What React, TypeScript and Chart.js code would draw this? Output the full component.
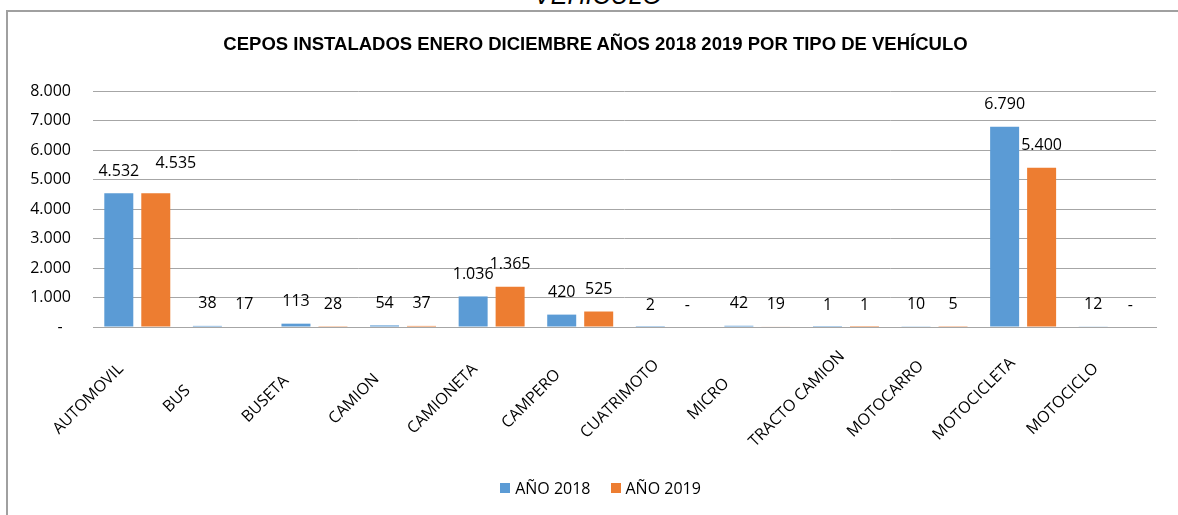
import React, { useEffect, useRef } from "react";
import { Chart, registerables } from "chart.js";

Chart.register(...registerables);

const categories = [
  "AUTOMOVIL",
  "BUS",
  "BUSETA",
  "CAMION",
  "CAMIONETA",
  "CAMPERO",
  "CUATRIMOTO",
  "MICRO",
  "TRACTO CAMION",
  "MOTOCARRO",
  "MOTOCICLETA",
  "MOTOCICLO",
];
const year2018 = [4532, 38, 113, 54, 1036, 420, 2, 42, 1, 10, 6790, 12];
const year2019 = [4535, 17, 28, 37, 1365, 525, 0, 19, 1, 5, 5400, 0];
const seriesNames = ["AÑO 2018", "AÑO 2019"];
const seriesColors = ["#5B9BD5", "#ED7D31"];
const yTicks = [0, 1000, 2000, 3000, 4000, 5000, 6000, 7000, 8000];
const chartTitle = "CEPOS INSTALADOS ENERO DICIEMBRE AÑOS 2018 2019 POR TIPO DE VEHÍCULO";

const FONT = '"Open Sans", "Liberation Sans", sans-serif';

const fmt = (v: number) =>
  v === 0 ? "-" : String(v).replace(/\B(?=(\d{3})+(?!\d))/g, ".");

const dataLabelPlugin = {
  id: "dataLabelPlugin",
  afterDatasetsDraw(chart: any) {
    const ctx = chart.ctx;
    const nudges: Record<string, [number, number]> = { "1:0": [20, -8] };
    ctx.save();
    ctx.font = `16px ${FONT}`;
    ctx.fillStyle = "#000";
    ctx.textAlign = "center";
    ctx.textBaseline = "middle";
    chart.data.datasets.forEach((ds: any, di: number) => {
      const meta = chart.getDatasetMeta(di);
      meta.data.forEach((el: any, i: number) => {
        const n = nudges[`${di}:${i}`] || [0, 0];
        ctx.fillText(fmt(ds.data[i]), el.x + n[0], el.y - 22 + n[1]);
      });
    });
    ctx.restore();
  },
};

const xLabelPlugin = {
  id: "xLabelPlugin",
  afterDraw(chart: any) {
    const ctx = chart.ctx;
    const xs = chart.scales.x;
    const bottom = chart.chartArea.bottom;
    ctx.save();
    ctx.font = `16px ${FONT}`;
    ctx.fillStyle = "#000";
    ctx.textAlign = "center";
    ctx.textBaseline = "middle";
    chart.data.labels.forEach((lab: string, i: number) => {
      const x = xs.getPixelForTick(i) - 49;
      const y = bottom + 72;
      ctx.save();
      ctx.translate(x, y);
      ctx.rotate(-Math.PI / 4);
      ctx.fillText(lab, 0, 0);
      ctx.restore();
    });
    ctx.restore();
  },
};

export default function App() {
  const canvasRef = useRef<HTMLCanvasElement | null>(null);

  useEffect(() => {
    if (!canvasRef.current) return;
    const chart = new Chart(canvasRef.current, {
      type: "bar",
      data: {
        labels: categories,
        datasets: [
          {
            label: seriesNames[0],
            data: year2018,
            backgroundColor: seriesColors[0],
            categoryPercentage: 0.835,
            barPercentage: 0.784,
          },
          {
            label: seriesNames[1],
            data: year2019,
            backgroundColor: seriesColors[1],
            categoryPercentage: 0.835,
            barPercentage: 0.784,
          },
        ],
      },
      options: {
        animation: false,
        responsive: false,
        devicePixelRatio: 1,
        layout: { padding: { left: 8, right: 22, top: 91, bottom: 45 } },
        plugins: {
          title: { display: false },
          legend: { display: false },
          tooltip: { enabled: false },
        },
        scales: {
          x: {
            grid: { display: false },
            border: { display: true, color: "#A6A6A6", width: 1 },
            ticks: { display: false },
            afterFit(scale: any) {
              scale.height = 143;
            },
          },
          y: {
            min: 0,
            max: 8000,
            afterBuildTicks(scale: any) {
              scale.ticks = yTicks.map((v) => ({ value: v }));
            },
            grid: { color: "#A6A6A6", drawTicks: false, lineWidth: 1 },
            border: { display: false },
            ticks: {
              padding: 22,
              color: "#000",
              font: { family: FONT, size: 16 },
              callback: (v: any) => (Number(v) === 0 ? "-  " : fmt(Number(v))),
            },
            afterFit(scale: any) {
              scale.width = 85;
            },
          },
        },
      },
      plugins: [dataLabelPlugin, xLabelPlugin],
    } as any);
    return () => chart.destroy();
  }, []);

  return (
    <div
      style={{
        position: "fixed",
        left: 0,
        top: 0,
        width: 1178,
        height: 515,
        overflow: "hidden",
        background: "#fff",
      }}
    >
      <div
        style={{
          position: "absolute",
          left: 0,
          width: 1196,
          top: -17,
          textAlign: "center",
          fontFamily: '"Liberation Sans", Arial, sans-serif',
          fontStyle: "italic",
          fontSize: 25,
          lineHeight: "25px",
          color: "#000",
        }}
      >
        VEHICULO
      </div>
      <div
        style={{
          position: "absolute",
          left: 6,
          top: 10,
          width: 1300,
          height: 700,
          borderTop: "2px solid #A0A0A0",
          borderLeft: "2px solid #A0A0A0",
        }}
      />
      <canvas
        ref={canvasRef}
        width={1178}
        height={515}
        style={{ position: "absolute", left: 0, top: 0, width: 1178, height: 515 }}
      />
      <div
        style={{
          position: "absolute",
          left: 0,
          width: 1191,
          top: 33,
          textAlign: "center",
          fontFamily: '"Liberation Sans", Arial, sans-serif',
          fontWeight: "bold",
          fontSize: 18.5,
          lineHeight: "22px",
          color: "#000",
          whiteSpace: "nowrap",
        }}
      >
        {chartTitle}
      </div>
      <div
        style={{
          position: "absolute",
          left: 0,
          width: 1201,
          top: 478,
          height: 20,
          display: "flex",
          justifyContent: "center",
          alignItems: "center",
          gap: 20,
          fontFamily: FONT,
          fontSize: 16,
          lineHeight: "20px",
          color: "#000",
        }}
      >
        {seriesNames.map((name, i) => (
          <div key={name} style={{ display: "flex", alignItems: "center", gap: 5 }}>
            <span
              style={{
                display: "inline-block",
                width: 10,
                height: 10,
                background: seriesColors[i],
              }}
            />
            <span>{name}</span>
          </div>
        ))}
      </div>
    </div>
  );
}
